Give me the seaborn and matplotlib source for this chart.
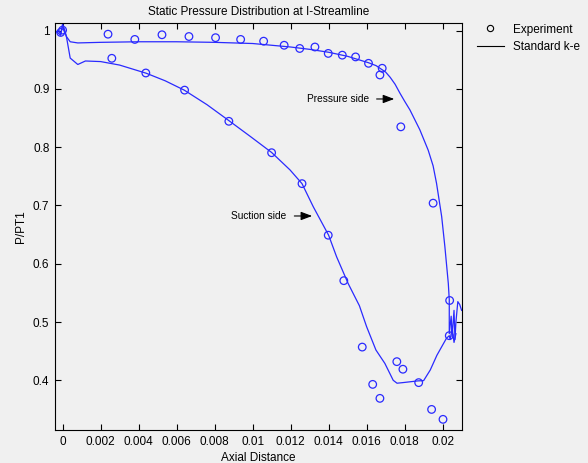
import matplotlib
matplotlib.use("Agg")
import matplotlib.pyplot as plt
from matplotlib.lines import Line2D
import seaborn as sns
import pandas as pd

# ---- data ----
ps_line_x = [-0.0004, -0.0002, -0.0001, 0.0, 0.0001, 0.0002, 0.0004, 0.0008, 0.002, 0.004,
             0.006, 0.008, 0.010, 0.012, 0.013, 0.014, 0.015, 0.0161, 0.0165, 0.0170,
             0.01724, 0.0175, 0.01775, 0.0180, 0.01828, 0.0188, 0.01924, 0.0195, 0.01968,
             0.01995, 0.02012, 0.0203, 0.02035, 0.02035, 0.02045, 0.0205, 0.0206,
             0.02065, 0.0207, 0.0208, 0.0209, 0.021]
ps_line_y = [0.997, 1.000, 0.995, 1.008, 1.002, 0.990, 0.981, 0.979, 0.980, 0.981,
             0.981, 0.980, 0.978, 0.972, 0.968, 0.963, 0.956, 0.945, 0.940, 0.929,
             0.920, 0.908, 0.893, 0.879, 0.864, 0.830, 0.795, 0.768, 0.738,
             0.681, 0.629, 0.566, 0.538, 0.480, 0.510, 0.475, 0.520,
             0.470, 0.500, 0.535, 0.530, 0.520]

ss_line_x = [-0.0003, -0.0001, 0.0, 0.0001, 0.0002, 0.0004, 0.0008, 0.0012, 0.002, 0.003,
             0.0044, 0.0054, 0.0064, 0.0076, 0.0088, 0.0099, 0.011, 0.01197, 0.0126,
             0.01319, 0.014, 0.01442, 0.01503, 0.01562, 0.0160, 0.01649, 0.01696, 0.0174,
             0.0176, 0.0179, 0.0187, 0.0190, 0.01935, 0.0197, 0.0202, 0.02035,
             0.0204, 0.0205, 0.0206, 0.0207]
ss_line_y = [0.998, 0.992, 1.012, 0.999, 0.990, 0.953, 0.942, 0.948, 0.947, 0.941,
             0.927, 0.914, 0.898, 0.873, 0.8445, 0.818, 0.791, 0.761, 0.7375,
             0.698, 0.649, 0.612, 0.566, 0.528, 0.492, 0.452, 0.429, 0.400,
             0.395, 0.396, 0.399, 0.3994, 0.4177, 0.443, 0.472, 0.4766,
             0.470, 0.490, 0.465, 0.480]

exp_x = [-0.0001, 0.0000, 0.00239, 0.0038, 0.00523, 0.00665, 0.00805, 0.00937, 0.01058,
         0.01166, 0.01248, 0.01328, 0.01398, 0.01472, 0.01542, 0.0161, 0.01682, 0.0167,
         0.0178, 0.0195, 0.02037,
         0.00259, 0.00438, 0.00642, 0.00875, 0.0110, 0.0126, 0.01398, 0.0148, 0.01577,
         0.01632, 0.0167, 0.01759, 0.01791, 0.01874, 0.01942, 0.02002, 0.02035]
exp_y = [0.997, 1.001, 0.994, 0.985, 0.993, 0.990, 0.988, 0.985, 0.982,
         0.975, 0.9695, 0.972, 0.961, 0.958, 0.955, 0.944, 0.9355, 0.924,
         0.835, 0.704, 0.537,
         0.9526, 0.9274, 0.898, 0.8445, 0.7906, 0.7375, 0.649, 0.571, 0.457,
         0.393, 0.369, 0.432, 0.419, 0.396, 0.350, 0.333, 0.4766]

x_ticks = [0, 0.002, 0.004, 0.006, 0.008, 0.01, 0.012, 0.014, 0.016, 0.018, 0.02]
x_tick_labels = ["0", "0.002", "0.004", "0.006", "0.008", "0.01", "0.012", "0.014",
                 "0.016", "0.018", "0.02"]
y_ticks = [0.4, 0.5, 0.6, 0.7, 0.8, 0.9, 1.0]
y_tick_labels = ["0.4", "0.5", "0.6", "0.7", "0.8", "0.9", "1"]

# ---- style ----
bg = "#f0f0f0"
plt.rcParams["font.family"] = ["Liberation Sans", "DejaVu Sans"]
plt.rcParams["font.size"] = 8.5

fig = plt.figure(figsize=(5.88, 4.63), dpi=100, facecolor=bg)
ax = fig.add_axes([55 / 588, 1 - 430 / 463, (462 - 55) / 588, (430 - 23) / 463])
ax.set_facecolor(bg)

blue = "#2a2aff"
ps_df = pd.DataFrame({"x": ps_line_x, "y": ps_line_y})
ss_df = pd.DataFrame({"x": ss_line_x, "y": ss_line_y})
exp_df = pd.DataFrame({"x": exp_x, "y": exp_y})

sns.lineplot(data=ps_df, x="x", y="y", sort=False, estimator=None, color=blue,
             linewidth=0.9, ax=ax)
sns.lineplot(data=ss_df, x="x", y="y", sort=False, estimator=None, color=blue,
             linewidth=0.9, ax=ax)
sns.scatterplot(data=exp_df, x="x", y="y", marker="o", s=30, facecolor="none",
                edgecolor=blue, linewidth=0.9, ax=ax, zorder=3)

ax.set_xlim(-0.0004, 0.02102)
ax.set_ylim(0.3147, 1.0132)
ax.set_xticks(x_ticks)
ax.set_xticklabels(x_tick_labels)
ax.set_yticks(y_ticks)
ax.set_yticklabels(y_tick_labels)
ax.tick_params(direction="in", length=4, width=0.8, top=True, right=True,
               labelsize=8.5, colors="black", pad=4)
for s in ax.spines.values():
    s.set_color("black")
    s.set_linewidth(0.8)

ax.set_xlabel("Axial Distance", fontsize=8.5, labelpad=3)
ax.set_ylabel("P/PT1", fontsize=8.5, labelpad=4)
ax.set_title("Static Pressure Distribution at I-Streamline", fontsize=8.5, pad=6)

# annotations
ax.annotate("", xy=(0.0176, 0.8828), xytext=(0.01638, 0.8828),
            arrowprops=dict(arrowstyle="-|>,head_length=0.8,head_width=0.3",
                            color="black", lw=0.8))
ax.text(0.01284, 0.8828, "Pressure side", fontsize=7.3, va="center", ha="left")
ax.annotate("", xy=(0.01328, 0.682), xytext=(0.01205, 0.682),
            arrowprops=dict(arrowstyle="-|>,head_length=0.8,head_width=0.3",
                            color="black", lw=0.8))
ax.text(0.00884, 0.682, "Suction side", fontsize=7.3, va="center", ha="left")

handles = [Line2D([], [], marker="o", ls="none", mfc="none", mec="black", ms=4.5, mew=0.8),
           Line2D([], [], color="black", lw=0.8)]
fig.legend(handles, ["Experiment", "Standard k-e"], loc="upper left",
           bbox_to_anchor=(466 / 588, 1 - 13 / 463), frameon=False, fontsize=8.5,
           handlelength=2.3, handletextpad=0.8, labelspacing=0.45)

fig.savefig("out.png", dpi=100, facecolor=bg)
